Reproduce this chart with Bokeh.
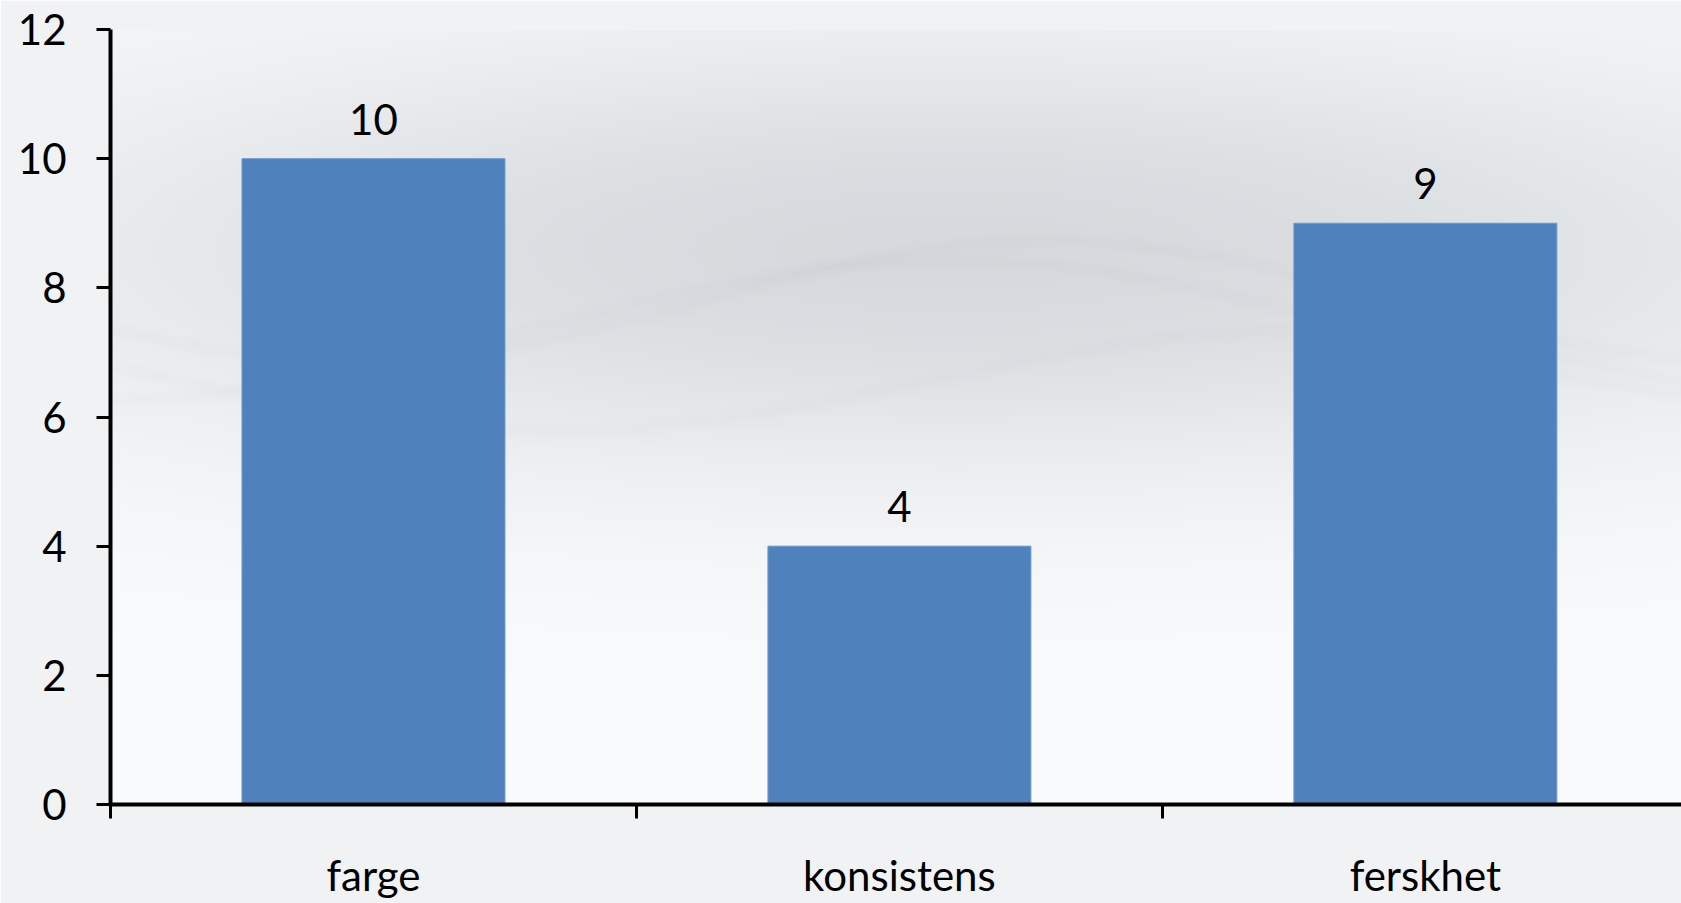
import numpy as np
from bokeh.plotting import figure
from bokeh.models import Range1d, FixedTicker, ColumnDataSource, LabelSet
from bokeh.core.properties import value
from bokeh.embed import file_html
from bokeh.resources import INLINE

# ---- data ----
categories = ["farge", "konsistens", "ferskhet"]
values = [10, 4, 9]
y_ticks = [0, 2, 4, 6, 8, 10, 12]

W, H = 1681, 903
LEFT, TOP, BOTTOM = 110, 29, 99
XMAX = 2.987

centers = [i + 0.5 for i in range(len(categories))]
src = ColumnDataSource(dict(x=centers, top=values, label=[str(v) for v in values]))

p = figure(width=W, height=H, output_backend="svg", toolbar_location=None,
           x_range=Range1d(0, XMAX), y_range=Range1d(0, 12))
p.min_border_left = LEFT
p.min_border_top = TOP
p.min_border_bottom = BOTTOM
p.min_border_right = 0
p.outline_line_color = None
p.grid.visible = False
p.border_fill_color = "#f1f2f3"
p.background_fill_color = "#f1f2f3"

# background gradient (decoration) inside frame
nx, ny = 420, 200
fw, fh = W - LEFT, H - TOP - BOTTOM
X = LEFT + np.linspace(0, 1, nx) * fw
Y = TOP + (1 - np.linspace(0, 1, ny)) * fh  # row 0 = bottom
XX, YY = np.meshgrid(X, Y)
d = 36 * np.exp(-((XX - 950) / 1000) ** 2 - ((YY - 250) / 230) ** 2)
# faint wavy lines
for (a, bb, c, ph) in [(300, 60, 1400, 0.0), (330, 70, 1700, 1.2), (380, -50, 1500, 2.4)]:
    yc = a + bb * np.sin(2 * np.pi * XX / c + ph)
    d += 3 * np.exp(-((YY - yc) / 7) ** 2)
r = np.clip(250 - d, 0, 255).astype(np.uint32)
g = np.clip(251 - d * 0.93, 0, 255).astype(np.uint32)
b = np.clip(252 - d * 0.86, 0, 255).astype(np.uint32)
img = (255 << 24) | (b << 16) | (g << 8) | r
p.image_rgba(image=[img.astype(np.uint32)], x=0, y=0, dw=XMAX, dh=12, level="image")

p.vbar(x="x", top="top", width=0.5, source=src, fill_color="#4F81BD", line_color="#6f97cc", line_width=1)

FONT = "Lato"
labels = LabelSet(x="x", y="top", text="label", source=src, text_align="center",
                  text_baseline="alphabetic", y_offset=24, text_font=value(FONT),
                  text_font_size="42px", text_color="black")
p.add_layout(labels)

# y axis
ya = p.yaxis[0]
ya.ticker = FixedTicker(ticks=y_ticks)
ya.axis_line_width = 4
ya.axis_line_color = "black"
ya.major_tick_line_width = 3
ya.major_tick_line_color = "black"
ya.major_tick_out = 14
ya.major_tick_in = 0
ya.minor_tick_line_color = None
ya.major_label_standoff = 30
ya.major_label_text_font = FONT
ya.major_label_text_font_size = "42px"
ya.major_label_text_color = "black"

# x axis
xa = p.xaxis[0]
xa.ticker = FixedTicker(ticks=centers, minor_ticks=list(range(len(categories) + 1)))
xa.major_label_overrides = {c: lab for c, lab in zip(centers, categories)}
xa.axis_line_width = 4
xa.axis_line_color = "black"
xa.major_tick_line_color = None
xa.major_tick_out = 14
xa.minor_tick_line_color = "black"
xa.minor_tick_line_width = 3
xa.minor_tick_out = 14
xa.minor_tick_in = 0
xa.major_label_standoff = 31
xa.major_label_text_font = FONT
xa.major_label_text_font_size = "42px"
xa.major_label_text_color = "black"

open("out.html", "w").write(file_html(p, INLINE))
